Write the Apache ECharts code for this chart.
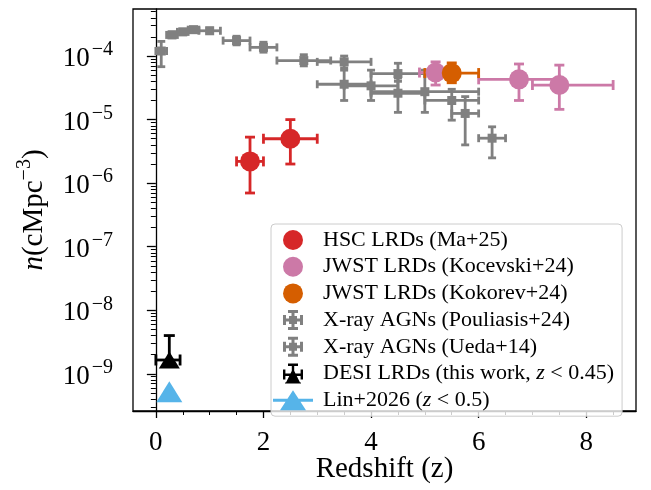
<!DOCTYPE html>
<html><head><meta charset="utf-8">
<script src="https://cdn.jsdelivr.net/npm/echarts@6/dist/echarts.min.js"></script>
<style>html,body{margin:0;padding:0;background:#fff}#c{width:651px;height:490px}</style>
</head><body><div id="c"></div>
<script>
// each point: [z, n, zLow, zHigh, nLow, nHigh]
const hscLRDs = [
  [1.75, 2.2e-6, 1.5, 2.0, 7.0e-7, 5.3e-6],
  [2.5, 5.0e-6, 2.0, 3.0, 2.0e-6, 1.0e-5]
];
const kocevskiLRDs = [
  [5.2, 5.5e-5, 4.9, 5.5, 3.5e-5, 8.1e-5],
  [6.75, 4.3e-5, 6.0, 7.5, 2.0e-5, 7.5e-5],
  [7.5, 3.5e-5, 7.0, 8.5, 1.45e-5, 7.2e-5]
];
const kokorevLRDs = [
  [5.5, 5.4e-5, 5.0, 6.0, 3.8e-5, 7.8e-5]
];
const pouliasisAGN = [
  [3.5, 8.1e-5, 3.0, 4.0, 6.5e-5, 1.0e-4],
  [3.5, 3.6e-5, 3.0, 4.0, 2.0e-5, 6.0e-5],
  [4.0, 3.4e-5, 3.5, 4.5, 2.0e-5, 6.0e-5],
  [4.5, 5.3e-5, 4.0, 5.0, 4.0e-5, 7.7e-5],
  [4.5, 2.6e-5, 4.0, 5.0, 1.3e-5, 4.5e-5],
  [5.0, 2.75e-5, 4.0, 6.0, 1.3e-5, 6.0e-5],
  [5.5, 2.0e-5, 5.0, 6.0, 9.8e-6, 3.0e-5],
  [5.75, 1.25e-5, 5.5, 6.0, 4.0e-6, 2.3e-5],
  [6.25, 5.1e-6, 6.0, 6.5, 2.5e-6, 7.7e-6]
];
const uedaAGN = [
  [0.1, 1.2e-4, 0.0, 0.2, 6.8e-5, 1.7e-4],
  [0.3, 2.15e-4, 0.2, 0.4, 1.95e-4, 2.4e-4],
  [0.5, 2.4e-4, 0.4, 0.6, 2.2e-4, 2.65e-4],
  [0.7, 2.6e-4, 0.6, 0.8, 2.4e-4, 2.85e-4],
  [1.0, 2.5e-4, 0.8, 1.2, 2.3e-4, 2.75e-4],
  [1.5, 1.75e-4, 1.25, 1.75, 1.5e-4, 2.05e-4],
  [2.0, 1.37e-4, 1.75, 2.25, 1.15e-4, 1.65e-4],
  [2.75, 8.5e-5, 2.25, 3.25, 7.0e-5, 1.05e-4]
];
const desiLRDs = [
  [0.25, 1.65e-9, 0.0, 0.45, 1.65e-9, 4.0e-9]
];
const lin2026 = [
  [0.25, 5.2e-10]
];
const xMajorTicks = [0, 2, 4, 6, 8];
const yMajorExponents = [-9, -8, -7, -6, -5, -4];
const xRange = [-0.425, 8.925];
const yRange = [2.6e-10, 5.5e-4];

const L = Math.log10;
const toLog = p => [p[0], L(p[1]), p[2], p[3], L(p[4]), L(p[5])];
const pts = arr => arr.map(p => [p[0], L(p[1])]);

const xMinor = [];
for (let v = -0.5; v <= 9; v += 0.5) xMinor.push(v);
const yMinor = [];
for (let e = -11; e <= -3; e++) for (let k = 2; k <= 9; k++) yMinor.push(L(k) + e);

const FONT = 'Liberation Serif';
const BLACK = '#000';

function errRender(color, cap, lw) {
  return function (params, api) {
    const x = api.value(0), y = api.value(1), x0 = api.value(2), x1 = api.value(3), y0 = api.value(4), y1 = api.value(5);
    const a = api.coord([x0, y]), b = api.coord([x1, y]), d = api.coord([x, y0]), e = api.coord([x, y1]);
    const st = { stroke: color, lineWidth: lw, lineCap: 'butt' };
    const h = cap / 2;
    const ch = [];
    const line = (x1_, y1_, x2_, y2_) => ch.push({ type: 'line', shape: { x1: x1_, y1: y1_, x2: x2_, y2: y2_ }, style: st });
    if (x1 > x0) {
      line(a[0], a[1], b[0], b[1]);
      line(a[0], a[1] - h, a[0], a[1] + h);
      line(b[0], b[1] - h, b[0], b[1] + h);
    }
    if (y1 > y0) {
      line(d[0], d[1], e[0], e[1]);
      if (y0 < y) line(d[0] - h, d[1], d[0] + h, d[1]);
      line(e[0] - h, e[1], e[0] + h, e[1]);
    }
    return { type: 'group', children: ch };
  };
}
function errSeries(id, arr, color, cap, lw) {
  return { type: 'custom', name: id, data: arr.map(toLog), renderItem: errRender(color, cap, lw),
    encode: { x: 0, y: 1 }, silent: true, animation: false, clip: false };
}
function dotSeries(name, arr, color, symbol, size) {
  return { type: 'scatter', name, data: pts(arr), symbol, symbolSize: size,
    itemStyle: { color, opacity: 1 }, animation: false, silent: true };
}

const GRAY = '#808080', RED = '#d62728', PINK = '#cc79a7', ORANGE = '#d55e00', SKY = '#56b4e9';
const crossIcon = 'path://M8.5 0h3v20h-3z M0 8.5h20v3h-20z M5 0h10v3h-10z M5 17h10v3h-10z M0 5h3v10h-3z M17 5h3v10h-3z M6 6h8v8h-8z';
const triErrIcon = 'path://M8.8 0h2.4v12h-2.4z M5 0h10v2.4h-10z M0 10h20v2.4h-20z M0 6h2.4v10h-2.4z M17.6 6h2.4v10h-2.4z M10 5L17 19L3 19Z M2 19h16v1h-16z';
const lineTriIcon = 'path://M0 8.5h40v3h-40z M20 0L33 20L7 20Z';

const chart = echarts.init(document.getElementById('c'), null, { renderer: 'canvas' });
const axisLineStyle = { color: BLACK, width: 1.3 };
chart.setOption({
  animation: false,
  backgroundColor: '#fff',
  grid: { left: 133, right: 15, top: 9, bottom: 79, show: true, borderColor: BLACK, borderWidth: 1.3, backgroundColor: 'transparent' },
  xAxis: [
    { type: 'value', min: xRange[0], max: xRange[1], position: 'bottom',
      axisLine: { show: true, lineStyle: axisLineStyle },
      axisTick: { show: true, inside: false, length: 7, lineStyle: { color: BLACK, width: 1.3 }, customValues: xMajorTicks },
      axisLabel: { show: true, customValues: xMajorTicks, margin: 18, fontFamily: FONT, fontSize: 27, color: BLACK, formatter: v => String(v) },
      splitLine: { show: false },
      name: 'Redshift (z)', nameLocation: 'middle', nameGap: 44, nameMoveOverlap: false,
      nameTextStyle: { fontFamily: FONT, fontSize: 29, color: BLACK } },
    { type: 'value', min: xRange[0], max: xRange[1], position: 'bottom',
      axisLine: { show: false },
      axisTick: { show: true, inside: false, length: 4, lineStyle: { color: BLACK, width: 1 }, customValues: xMinor },
      axisLabel: { show: false }, splitLine: { show: false } }
  ],
  yAxis: [
    { type: 'value', min: L(yRange[0]), max: L(yRange[1]), position: 'left',
      axisLine: { show: true, lineStyle: axisLineStyle },
      axisTick: { show: true, inside: false, length: 9, lineStyle: { color: BLACK, width: 1.3 }, customValues: yMajorExponents },
      axisLabel: { show: true, customValues: yMajorExponents, margin: 20, padding: [6, 0, 0, 0],
        formatter: v => '{b|10}{s|\u2212' + Math.round(-v) + '}',
        rich: { b: { fontFamily: FONT, fontSize: 27, color: BLACK },
                s: { fontFamily: FONT, fontSize: 20, color: BLACK, padding: [0, 0, 18, 2] } } },
      splitLine: { show: false },
      name: '{i|n}{r|(cMpc}{s|\u22123}{r|)}', nameLocation: 'middle', nameGap: 80, nameMoveOverlap: false,
      nameTextStyle: { rich: {
        i: { fontFamily: FONT, fontStyle: 'italic', fontSize: 29, color: BLACK },
        r: { fontFamily: FONT, fontSize: 29, color: BLACK },
        s: { fontFamily: FONT, fontSize: 20, color: BLACK, padding: [0, 0, 18, 0] } } } },
    { type: 'value', min: L(yRange[0]), max: L(yRange[1]), position: 'left',
      axisLine: { show: false },
      axisTick: { show: true, inside: false, length: 5, lineStyle: { color: BLACK, width: 1 }, customValues: yMinor },
      axisLabel: { show: false }, splitLine: { show: false } }
  ],
  legend: {
    orient: 'vertical', left: 271, top: 224,
    padding: [5, 8, 5, 2], itemGap: 4.7, itemWidth: 40, itemHeight: 20,
    borderColor: '#cccccc', borderWidth: 1, borderRadius: 4, backgroundColor: 'rgba(255,255,255,0.8)',
    selectedMode: false,
    textStyle: { fontFamily: FONT, fontSize: 22, color: BLACK, lineHeight: 20, padding: [0, 0, 0, 5],
      rich: { i: { fontFamily: FONT, fontSize: 22, fontStyle: 'italic', color: BLACK } } },
    formatter: n => n.replace(/z/g, '{i|z}'),
    data: [
      { name: 'HSC LRDs (Ma+25)', icon: 'circle' },
      { name: 'JWST LRDs (Kocevski+24)', icon: 'circle' },
      { name: 'JWST LRDs (Kokorev+24)', icon: 'circle' },
      { name: 'X-ray AGNs (Pouliasis+24)', icon: crossIcon },
      { name: 'X-ray AGNs (Ueda+14)', icon: crossIcon },
      { name: 'DESI LRDs (this work, z < 0.45)', icon: triErrIcon },
      { name: 'Lin+2026 (z < 0.5)', icon: lineTriIcon }
    ]
  },
  series: [
    errSeries('e-pou', pouliasisAGN, GRAY, 8, 2.8),
    dotSeries('X-ray AGNs (Pouliasis+24)', pouliasisAGN, GRAY, 'rect', 9),
    errSeries('e-ueda', uedaAGN, GRAY, 8, 2.8),
    dotSeries('X-ray AGNs (Ueda+14)', uedaAGN, GRAY, 'rect', 9),
    errSeries('e-koc', kocevskiLRDs, PINK, 10, 2.8),
    dotSeries('JWST LRDs (Kocevski+24)', kocevskiLRDs, PINK, 'circle', 20),
    errSeries('e-kok', kokorevLRDs, ORANGE, 10, 2.8),
    dotSeries('JWST LRDs (Kokorev+24)', kokorevLRDs, ORANGE, 'circle', 20),
    errSeries('e-hsc', hscLRDs, RED, 10, 2.8),
    dotSeries('HSC LRDs (Ma+25)', hscLRDs, RED, 'circle', 20),
    errSeries('e-desi', desiLRDs, BLACK, 11, 2.8),
    dotSeries('DESI LRDs (this work, z < 0.45)', desiLRDs, BLACK, 'triangle', [21, 17]),
    dotSeries('Lin+2026 (z < 0.5)', lin2026, SKY, 'triangle', [26, 21])
  ]
});
</script>
</body></html>
